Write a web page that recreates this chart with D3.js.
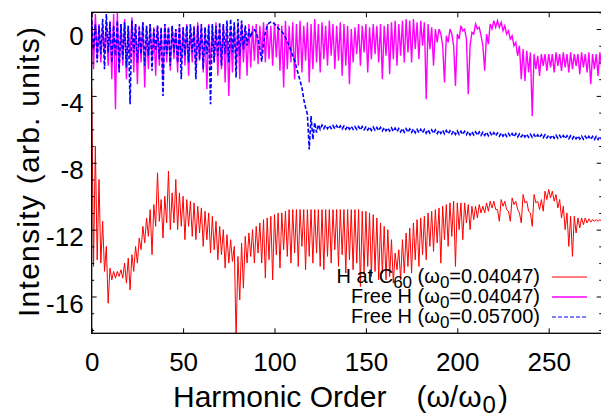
<!DOCTYPE html>
<html>
<head>
<meta charset="utf-8">
<script src="https://cdn.jsdelivr.net/npm/d3@7"></script>
<style>
  body { margin: 0; background: #fff; }
  svg { display: block; font-family: "Liberation Sans", Arial, Helvetica, sans-serif; }
</style>
</head>
<body>
<svg id="chart" width="601" height="417"></svg>
<script>
// harmonic spectra (log intensity).
// *Even arrays sit at orders 0,2,4..280, *Odd arrays at 1,3,5..281
var redEven = [
  -3.5, -7.0, -9.0, -11.5, -13.0, -14.3, -14.5, -14.5, -14.4, -14.0,
  -13.7, -13.5, -13.0, -12.5, -11.8, -11.3, -10.8, -10.5, -8.6, -10.2,
  -10.0, -8.5, -9.8, -9.0, -9.8, -10.0, -10.2, -10.3, -10.4, -10.6,
  -10.7, -10.9, -11.0, -11.2, -11.5, -11.8, -12.0, -12.3, -12.6, -13.0,
  -13.6, -12.8, -12.4, -12.2, -12.0, -11.8, -11.6, -11.4, -11.3, -11.2,
  -11.1, -11.0, -11.0, -10.9, -10.8, -10.8, -10.8, -10.8, -10.8, -10.8,
  -10.8, -10.8, -10.8, -10.8, -10.8, -10.8, -10.8, -10.8, -10.8, -10.8,
  -10.8, -10.8, -10.8, -10.8, -10.9, -10.9, -11.0, -11.1, -11.3, -11.6,
  -11.8, -12.0, -12.6, -13.4, -13.2, -12.6, -12.2, -11.9, -11.6, -11.4,
  -11.3, -11.2, -11.0, -10.9, -10.8, -10.7, -10.6, -10.5, -10.4, -10.3,
  -10.4, -10.4, -10.4, -10.5, -10.6, -10.6, -10.5, -10.6, -10.4, -10.3,
  -10.3, -10.8, -10.2, -10.3, -10.9, -10.1, -10.3, -11.0, -9.9, -10.3,
  -11.0, -9.9, -10.3, -10.2, -9.7, -9.6, -9.7, -9.9, -10.2, -10.6,
  -11.0, -11.2, -11.2, -11.3, -11.3, -11.3, -11.35, -11.4, -11.4, -11.4,
  -11.4
];
var redOdd = [
  -14.2, -13.8, -14.0, -14.5, -16.4, -15.0, -14.9, -14.8, -14.9, -15.2,
  -15.6, -14.5, -14.0, -13.2, -12.8, -12.4, -13.5, -11.8, -11.5, -12.5,
  -11.6, -12.0, -11.6, -12.0, -11.8, -12.6, -11.8, -12.4, -12.6, -12.2,
  -13.0, -12.6, -13.4, -13.2, -13.8, -13.5, -14.3, -14.0, -13.9, -18.5,
  -16.2, -15.5, -14.0, -13.6, -14.0, -13.4, -14.0, -14.9, -13.8, -15.0,
  -13.5, -14.3, -13.2, -13.6, -14.0, -13.4, -14.2, -13.0, -14.4, -13.6,
  -14.0, -13.4, -14.2, -14.4, -13.6, -14.0, -13.2, -14.2, -13.5, -14.6,
  -13.8, -14.4, -14.0, -15.4, -14.6, -14.2, -14.8, -14.5, -15.0, -14.6,
  -15.0, -14.8, -15.2, -14.4, -15.0, -14.6, -14.2, -14.6, -13.8, -14.2,
  -13.5, -13.8, -13.0, -13.3, -12.8, -14.0, -12.6, -13.0, -12.4, -14.2,
  -12.0, -12.6, -11.6, -12.0, -11.4, -11.3, -11.0, -11.0, -10.9, -10.7,
  -10.8, -11.5, -10.6, -10.8, -11.5, -10.5, -10.8, -11.6, -10.4, -10.9,
  -11.8, -10.4, -10.8, -10.9, -10.2, -10.1, -10.3, -10.7, -11.3, -12.0,
  -13.0, -13.6, -12.2, -11.9, -11.7, -11.6, -11.55, -11.5, -11.5, -11.5,
  -11.5
];
var magEven = [
  0.6, 0.9, 0.3, 0.2, 0.4, 0.5, 0.9, 1.0, 0.3, 0.6,
  0.2, 0.7, 0.3, 0.2, 0.4, 0.1, 0.3, 0.1, 0.2, 0.0,
  0.3, 0.1, 0.2, 0.0, 0.2, 0.1, 0.3, 0.1, 0.2, 0.4,
  0.2, 0.1, 0.3, 0.2, 0.4, 0.1, 0.3, 0.2, 0.1, 0.3,
  0.2, 0.4, 0.1, 0.3, 0.2, 0.3, 0.2, 0.4, 0.3, 0.2,
  0.4, 0.3, 0.2, 0.5, 0.2, 0.4, 0.3, 0.5, 0.2, 0.4,
  0.3, 0.6, 0.3, 0.4, 0.2, 0.5, 0.3, 0.2, 0.4, 0.3,
  0.2, 0.0, 0.1, 0.3, 0.2, 0.3, 0.1, 0.3, 0.2, 0.3,
  0.2, 0.3, 0.4, 0.5, 0.3, 0.5, 0.6, 0.5, 0.6, 0.4,
  0.5, 0.4, 0.3, 0.1, 0.0, 0.0, -1.0, -0.4, 0.0, -1.0,
  -0.3, 0.2, 0.0, -3.9, -0.2, 0.3, 0.1, -1.0, -0.3, 0.3,
  0.5, 0.5, 0.4, 0.2, -0.1, -0.4, -0.8, -1.0, -1.2, -1.3,
  -1.4, -1.5, -1.6, -1.5, -1.5, -1.5, -1.5, -1.4, -1.5, -1.4,
  -1.5, -1.4, -1.5, -1.5, -1.4, -1.5, -1.4, -1.5, -1.5, -1.4,
  -1.5
];
var magOdd = [
  -2.4, -1.8, -2.0, -1.5, -2.2, -3.0, -4.8, -2.5, -2.2, -3.0,
  -1.8, -2.6, -3.3, -2.0, -3.5, -2.4, -1.9, -2.8, -2.2, -3.0,
  -2.0, -2.5, -1.8, -2.6, -2.0, -2.2, -2.8, -2.0, -2.4, -1.9,
  -2.6, -3.6, -2.2, -2.0, -2.8, -2.4, -3.2, -4.0, -2.6, -2.2,
  -3.0, -2.0, -2.8, -2.3, -1.9, -2.1, -1.6, -2.0, -1.8, -2.2,
  -1.7, -2.5, -3.5, -2.4, -2.0, -3.0, -2.2, -2.6, -1.9, -3.2,
  -2.4, -2.0, -2.6, -1.8, -2.2, -1.6, -2.4, -1.9, -2.8, -2.2,
  -3.3, -2.0, -1.5, -2.2, -1.4, -2.6, -1.8, -1.5, -2.0, -3.0,
  -1.6, -2.7, -1.8, -2.2, -1.6, -2.0, -1.4, -2.0, -1.2, -1.8,
  -1.0, -4.2, -1.2, -2.2, -0.8, -0.3, -3.2, -0.8, -0.3, -3.4,
  -0.6, -0.1, -0.6, -1.0, -0.3, 0.0, -0.4, -2.5, -0.9, 0.0,
  0.1, 0.1, -0.1, -0.3, -0.6, -1.0, -1.6, -3.0, -3.1, -2.6,
  -5.2, -2.4, -2.8, -2.2, -2.5, -2.3, -2.6, -2.2, -2.5, -2.3,
  -2.6, -2.4, -2.2, -2.7, -2.3, -2.6, -3.3, -2.4, -2.8, -2.3,
  -2.6
];
var blueEven = [
  0.5, 0.3, 0.2, 0.6, 0.9, 0.4, 0.2, 0.5, 0.3, 0.4,
  0.2, 0.5, 0.3, 0.1, 0.4, 0.2, 0.3, 0.0, 0.2, 0.1,
  0.3, 0.1, 0.2, 0.0, 0.3, 0.1, 0.2, 0.3, 0.1, 0.2,
  0.3, 0.1, 0.2, 0.3, 0.2, 0.4, 0.3, 0.5, 0.6, 0.4,
  0.6, 0.5, 0.2, 0.0, -0.1, -0.2, -1.2, -0.9, 0.2, 0.42,
  0.3, 0.05, -0.15, -0.5, -1.0, -1.6, -2.3, -3.1, -4.2, -5.1,
  -5.2, -5.6, -5.72, -5.75, -5.76, -5.77, -5.78, -5.78, -5.8, -5.8,
  -5.81, -5.82, -5.84, -5.83, -5.84, -5.86, -5.86, -5.87, -5.89, -5.88,
  -5.9, -5.92, -5.91, -5.93, -5.95, -5.95, -5.96, -5.98, -5.98, -6.0,
  -6.0, -6.01, -6.03, -6.03, -6.04, -6.06, -6.06, -6.07, -6.09, -6.09,
  -6.1, -6.12, -6.12, -6.13, -6.15, -6.15, -6.16, -6.18, -6.18, -6.19,
  -6.2, -6.22, -6.22, -6.23, -6.25, -6.25, -6.26, -6.28, -6.28, -6.29,
  -6.3, -6.31, -6.33, -6.32, -6.33, -6.35, -6.35, -6.35, -6.37, -6.37,
  -6.38, -6.39, -6.39, -6.4, -6.41, -6.41, -6.42, -6.43, -6.43, -6.43,
  -6.44
];
var blueOdd = [
  -1.2, -2.0, -1.5, -2.4, -1.4, -2.0, -1.6, -2.6, -1.8, -2.3,
  -4.5, -1.4, -2.0, -1.5, -2.2, -1.6, -2.5, -1.3, -1.8, -4.0,
  -1.5, -2.2, -1.4, -2.0, -3.0, -1.6, -2.0, -1.4, -3.0, -1.8,
  -2.4, -1.5, -4.5, -2.0, -1.6, -2.2, -1.5, -2.0, -1.4, -2.9,
  -1.6, -1.2, -1.0, -0.5, -0.05, -0.6, -1.95, -0.2, 0.35, 0.4,
  0.2, -0.05, -0.3, -0.75, -1.3, -1.9, -2.7, -3.5, -4.7, -7.2,
  -6.6, -6.2, -6.0, -5.95, -5.96, -5.95, -5.97, -5.96, -5.98, -5.99,
  -5.99, -6.0, -6.01, -6.03, -6.03, -6.04, -6.06, -6.06, -6.07, -6.09,
  -6.09, -6.1, -6.12, -6.13, -6.15, -6.17, -6.17, -6.18, -6.2, -6.2,
  -6.21, -6.23, -6.23, -6.24, -6.25, -6.25, -6.27, -6.27, -6.28, -6.3,
  -6.3, -6.31, -6.32, -6.34, -6.34, -6.35, -6.36, -6.37, -6.38, -6.38,
  -6.39, -6.41, -6.41, -6.42, -6.43, -6.44, -6.45, -6.45, -6.46, -6.47,
  -6.48, -6.49, -6.49, -6.5, -6.51, -6.52, -6.53, -6.53, -6.54, -6.55,
  -6.56, -6.56, -6.57, -6.58, -6.59, -6.59, -6.6, -6.61, -6.61, -6.62,
  -6.63
];

var xTicks = [0, 50, 100, 150, 200, 250];
var yTicks = [0, -4, -8, -12, -16];
var yMinorTicks = [1, -1, -2, -3, -5, -6, -7, -9, -10, -11, -13, -14, -15, -17, -18];

var series = [
  { even: redEven,  odd: redOdd,  color: "#ff0000", width: 1,   keyWidth: 1,   dash: null,
    label: [["H at C", ""], ["60", "sub"], [" (\u03c9", ""], ["0", "sub"], ["=0.04047)", ""]] },
  { even: magEven,  odd: magOdd,  color: "#ff00ff", width: 1.4, keyWidth: 1.6, dash: null,
    label: [["Free H (\u03c9", ""], ["0", "sub"], ["=0.04047)", ""]] },
  { even: blueEven, odd: blueOdd, color: "#0000ff", width: 1.6, keyWidth: 1,   dash: "4,2",
    label: [["Free H (\u03c9", ""], ["0", "sub"], ["=0.05700)", ""]] }
];

(function() {
  var plotL = 91.7, plotR = 601.7, plotT = 12.3, plotB = 333.3;

  var svg = d3.select("#chart");

  var x = d3.scaleLinear().domain([0, 279]).range([plotL, plotR]);
  var y = d3.scaleLinear().domain([-18.2, 1]).range([plotB, plotT]);

  svg.append("defs").append("clipPath").attr("id", "plotclip")
    .append("rect")
    .attr("x", plotL).attr("y", plotT)
    .attr("width", plotR - plotL).attr("height", plotB - plotT);

  // interleave even/odd samples into one zig-zag trace
  function trace(s) {
    var pts = [];
    s.even.forEach(function(v, i) {
      pts.push([2 * i, v]);
      if (s.odd[i] != null) pts.push([2 * i + 1, s.odd[i]]);
    });
    return pts;
  }

  var line = d3.line()
    .x(function(d) { return x(d[0]); })
    .y(function(d) { return y(d[1]); });

  var plot = svg.append("g").attr("clip-path", "url(#plotclip)");
  plot.selectAll("path.trace")
    .data(series)
    .enter().append("path")
    .attr("class", "trace")
    .attr("d", function(s) { return line(trace(s)); })
    .attr("fill", "none")
    .attr("stroke", function(s) { return s.color; })
    .attr("stroke-width", function(s) { return s.width; })
    .attr("stroke-dasharray", function(s) { return s.dash; });

  // axes, gnuplot style: inward ticks, mirrored on top/right
  var tickLen = 5, minorLen = 2.5;

  var gx = svg.append("g").attr("transform", "translate(0," + plotB + ")")
    .call(d3.axisBottom(x).tickValues(xTicks).tickSize(-tickLen).tickPadding(19).tickFormat(String));
  svg.append("g").attr("transform", "translate(0," + plotT + ")")
    .call(d3.axisTop(x).tickValues(xTicks).tickSize(-tickLen).tickFormat(""));
  var gy = svg.append("g").attr("transform", "translate(" + plotL + ",0)")
    .call(d3.axisLeft(y).tickValues(yTicks).tickSize(-tickLen).tickPadding(8).tickFormat(String));
  svg.append("g").attr("transform", "translate(" + plotL + ",0)")
    .call(d3.axisLeft(y).tickValues(yMinorTicks).tickSize(-minorLen).tickFormat(""));
  svg.append("g").attr("transform", "translate(" + plotR + ",0)")
    .call(d3.axisRight(y).tickValues(yTicks).tickSize(-tickLen).tickFormat(""));
  svg.append("g").attr("transform", "translate(" + plotR + ",0)")
    .call(d3.axisRight(y).tickValues(yMinorTicks).tickSize(-minorLen).tickFormat(""));

  svg.selectAll(".domain").remove();
  svg.selectAll(".tick line").attr("stroke", "#000").attr("stroke-width", 1);

  gx.attr("font-family", null).attr("font-size", 26);
  gy.attr("font-family", null).attr("font-size", 26);
  gx.selectAll("text").attr("fill", "#000");
  gy.selectAll("text").attr("fill", "#000").attr("dy", "0.6em");

  svg.append("rect")
    .attr("x", plotL).attr("y", plotT)
    .attr("width", plotR - plotL).attr("height", plotB - plotT)
    .attr("fill", "none").attr("stroke", "#000").attr("stroke-width", 1.3);

  // axis titles
  var xt = svg.append("text")
    .attr("x", 173).attr("y", 407)
    .attr("font-size", 30).attr("fill", "#000");
  xt.append("tspan").text("Harmonic Order");
  xt.append("tspan").attr("dx", 30).text("(\u03c9/\u03c9");
  xt.append("tspan").attr("dy", 6).attr("dx", 1).attr("font-size", 24).text("0");
  xt.append("tspan").attr("dy", -6).attr("dx", 2).text(")");

  svg.append("text")
    .attr("transform", "translate(39,317) rotate(-90)")
    .attr("font-size", 30).attr("fill", "#000")
    .attr("textLength", 290).attr("lengthAdjust", "spacing")
    .text("Intensity (arb. units)");

  // key
  var keyRight = 540, keyTop = 283, keyStep = 20;
  var key = svg.selectAll("g.key")
    .data(series)
    .enter().append("g").attr("class", "key")
    .attr("transform", function(s, i) { return "translate(0," + (keyTop + i * keyStep) + ")"; });

  key.append("text")
    .attr("x", keyRight).attr("text-anchor", "end")
    .attr("font-size", 20).attr("fill", "#000")
    .each(function(s) {
      var t = d3.select(this), shifted = false;
      s.label.forEach(function(part) {
        var sp = t.append("tspan").text(part[0]);
        if (part[1] === "sub") { sp.attr("dy", 5).attr("font-size", 17); shifted = true; }
        else if (shifted) { sp.attr("dy", -5); shifted = false; }
      });
    });

  key.append("line")
    .attr("x1", 552).attr("x2", 587).attr("y1", -6).attr("y2", -6)
    .attr("stroke", function(s) { return s.color; })
    .attr("stroke-width", function(s) { return s.keyWidth; })
    .attr("stroke-dasharray", function(s) { return s.dash; });
})();
</script>
</body>
</html>
